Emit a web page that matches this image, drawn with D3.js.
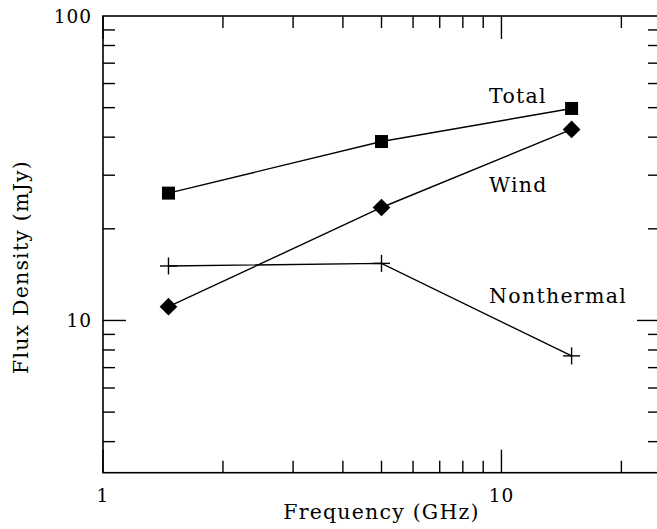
<!DOCTYPE html>
<html><head><meta charset="utf-8">
<script src="https://cdn.jsdelivr.net/npm/d3@7"></script>
<style>body{margin:0;background:#fff}svg{display:block}text{font-family:"DejaVu Serif",serif;fill:#000}</style>
</head><body><svg id="c" width="657" height="529"></svg>
<script>
const freq = [1.46, 5.0, 15.0];
const total = [26.2, 38.7, 49.7];
const wind = [11.1, 23.5, 42.4];
const nonthermal = [15.1, 15.4, 7.65];
const seriesNames = ["Total", "Wind", "Nonthermal"];
const xTicksMajor = [1, 10];
const xTicksMinor = [2,3,4,5,6,7,8,9,20];
const yTicksMajor = [10, 100];
const yTicksMinor = [4,5,6,7,8,9,20,30,40,50,60,70,80,90];

const svg = d3.select("#c");
const L=103, R=660, T=16, B=472.7;
const x = d3.scaleLog().domain([1, 25]).range([L, R]);
const y = d3.scaleLog().domain([Math.sqrt(10), 100]).range([B, T]);

svg.append("rect").attr("x",L).attr("y",T).attr("width",R-L).attr("height",B-T)
  .attr("fill","none").attr("stroke","#000").attr("stroke-width",1.6);

const minorLen=12, majorLen=23;
function ticks(vals, len){
  vals.forEach(v=>{
    const xv=x(v);
    svg.append("line").attr("x1",xv).attr("x2",xv).attr("y1",B).attr("y2",B-len).attr("stroke","#000").attr("stroke-width",1.4);
    svg.append("line").attr("x1",xv).attr("x2",xv).attr("y1",T).attr("y2",T+len).attr("stroke","#000").attr("stroke-width",1.4);
  });
}
function yticks(vals, len){
  vals.forEach(v=>{
    const yv=y(v);
    svg.append("line").attr("y1",yv).attr("y2",yv).attr("x1",L).attr("x2",L+len).attr("stroke","#000").attr("stroke-width",1.4);
    svg.append("line").attr("y1",yv).attr("y2",yv).attr("x1",R).attr("x2",R-len).attr("stroke","#000").attr("stroke-width",1.4);
  });
}
ticks(xTicksMinor, minorLen); ticks(xTicksMajor, majorLen);
yticks(yTicksMinor, minorLen); yticks(yTicksMajor.filter(v=>v<100), majorLen);

const fs = 20.5, ls = 1.2;
xTicksMajor.forEach(v=>{
  svg.append("text").attr("x",x(v)).attr("y",502).attr("text-anchor","middle").attr("font-size",18.5).attr("letter-spacing",1).text(d3.format("d")(v));
});
yTicksMajor.forEach(v=>{
  svg.append("text").attr("x",92).attr("y",y(v)+7).attr("text-anchor","end").attr("font-size",18.5).attr("letter-spacing",1).text(d3.format("d")(v));
});

svg.append("text").attr("x",(L+R)/2).attr("y",519).attr("text-anchor","middle").attr("font-size",fs).attr("letter-spacing",ls).text("Frequency (GHz)");
svg.append("text").attr("transform","translate(28,267) rotate(-90)").attr("text-anchor","middle").attr("font-size",fs).attr("letter-spacing",ls).text("Flux Density (mJy)");

const line = d3.line().x(d=>x(d[0])).y(d=>y(d[1]));
const data = [total, wind, nonthermal].map(s=>freq.map((f,i)=>[f,s[i]]));
data.forEach(d=>{
  svg.append("path").attr("d",line(d)).attr("fill","none").attr("stroke","#000").attr("stroke-width",1.4);
});
data[0].forEach(d=>{
  svg.append("rect").attr("x",x(d[0])-6.5).attr("y",y(d[1])-6.5).attr("width",13).attr("height",13).attr("fill","#000");
});
data[1].forEach(d=>{
  svg.append("path").attr("d",d3.symbol(d3.symbolDiamond2,200)()).attr("transform",`translate(${x(d[0])},${y(d[1])})`).attr("fill","#000");
});
data[2].forEach(d=>{
  const cx=x(d[0]), cy=y(d[1]);
  svg.append("line").attr("x1",cx-8.5).attr("x2",cx+8.5).attr("y1",cy).attr("y2",cy).attr("stroke","#000").attr("stroke-width",1.4);
  svg.append("line").attr("x1",cx).attr("x2",cx).attr("y1",cy-8.5).attr("y2",cy+8.5).attr("stroke","#000").attr("stroke-width",1.4);
});

const labelY = [103, 192, 303];
seriesNames.forEach((n,i)=>{
  svg.append("text").attr("x",489).attr("y",labelY[i]).attr("font-size",fs).attr("letter-spacing",1.3).text(n);
});
</script></body></html>
